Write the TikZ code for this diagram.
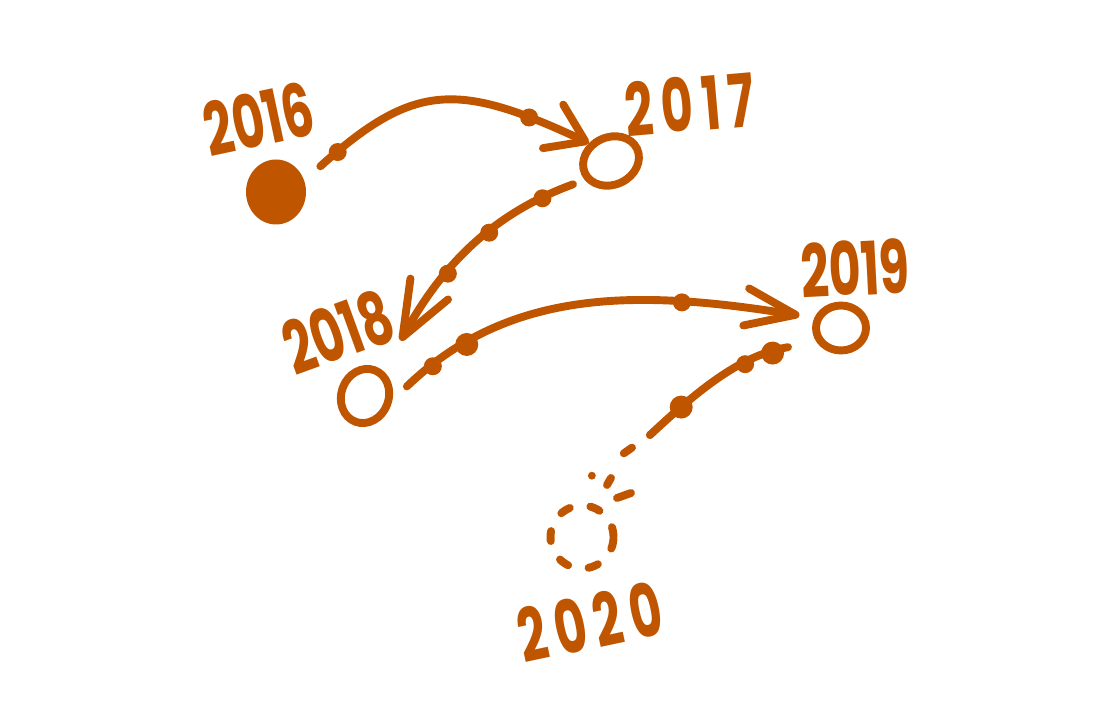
\documentclass[tikz,border=0pt]{standalone}
\usepackage{fontspec}
\newfontfamily\hand{Poppins}
\usetikzlibrary{arrows.meta,shapes.geometric,positioning,calc}
\definecolor{rust}{HTML}{C05500}

\begin{document}
\begin{tikzpicture}[x=0.02cm,y=0.02cm,line width=4.5pt,line cap=round,rust,
    year/.style={font=\hand\bfseries\fontsize{28}{28}\selectfont,text=rust,inner sep=0pt},
    ring/.style={ellipse,draw,inner sep=0pt},
    knot/.style={circle,fill,inner sep=0pt,minimum size=0.36cm},
    bigknot/.style={knot,minimum size=0.46cm},
    hook/.style 2 args={-{Straight Barb[length=#1,width=#2,round]}}]
    \useasboundingbox (0,0) rectangle (1114,702);
    % years
    \node[ellipse,fill,inner sep=0pt,minimum width=1.2cm,minimum height=1.3cm](dot16) at (276,510){};
    \node[year,rotate=12](lab16) at (259,583){\scalebox{1}[1.5]{2016}};
    \node[ring,minimum width=1.15cm,minimum height=0.95cm,rotate=25](c17) at (611,541){};
    \node[year,rotate=5](lab17) at (690,598){\scalebox{1}[1.5]{2\,0\,1\,7}};
    \node[ring,minimum width=0.95cm,minimum height=1.1cm,rotate=-20](c18) at (365,306){};
    \node[year,rotate=20](lab18) at (338,370){\scalebox{1}[1.5]{2018}};
    \node[ring,minimum width=1.0cm,minimum height=0.9cm](c19) at (841,374){};
    \node[year,rotate=3](lab19) at (855,434){\scalebox{1}[1.5]{2019}};
    \node[circle,draw,dash pattern=on 0.2cm off 0.42cm,minimum size=1.26cm](c20) at (582,165){};
    \node[year,rotate=12](lab20) at (590,80){\scalebox{1}[1.5]{2\,0\,2\,0}};
    % arrows
    \draw[hook={0.71cm}{0.96cm},shorten <=0.35cm](dot16.24) to[out=42,in=155,looseness=1.3]
        node[knot,pos=0.1](k1){} node[knot,pos=0.83](k2){} (c17.116);
    \draw[hook={1.1cm}{0.86cm},shorten <=0.25cm,shorten >=0.7cm](c17.191) to[out=200,in=61]
        node[knot,pos=0.15](k3){} node[knot,pos=0.38](k4){} node[knot,pos=0.6](k5){} (c18.73);
    \draw[hook={1.0cm}{0.75cm},shorten <=0.4cm,shorten >=0.3cm](c18.11) to[out=44,in=171]
        node[knot,pos=0.11](k6){} node[bigknot,pos=0.2](k7){} node[knot,pos=0.72](k8){} (c19.159);
    % next year, fading out
    \coordinate(fade) at (650,267);
    \coordinate(fadeEnd) at (590,225);
    \draw[shorten <=0.58cm](c19.210) to[out=190,in=43]
        node[bigknot,pos=0.22](k9){} node[knot,pos=0.38](k10){} node[bigknot,pos=0.8](k11){} (fade);
    \draw[dash pattern=on 0pt off 0.44cm on 0.2cm off 0.78cm on 0pt off 1cm](fade) -- (fadeEnd);
    \draw(611,224) -- (607,217);
    \draw(631,209) -- (617,204);
\end{tikzpicture}
\end{document}
